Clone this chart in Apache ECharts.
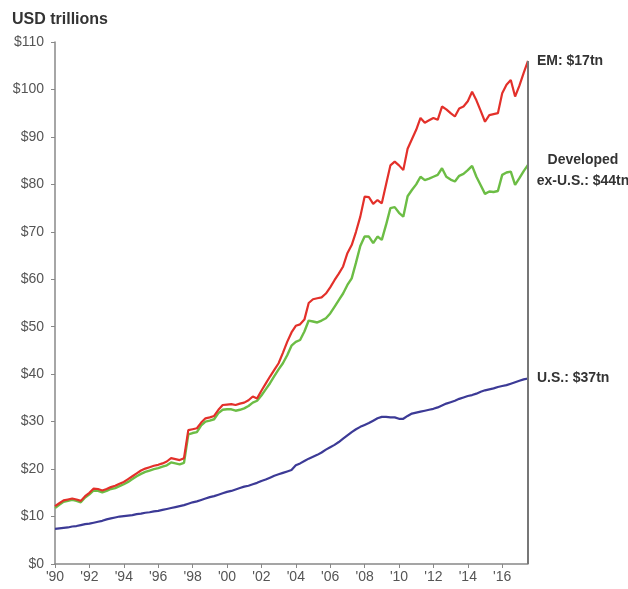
<!DOCTYPE html>
<html>
<head>
<meta charset="utf-8">
<script src="https://cdn.jsdelivr.net/npm/echarts@6/dist/echarts.min.js"></script>
<style>
  html, body { margin: 0; padding: 0; background: #fff; }
  #chart { width: 628px; height: 589px; }
</style>
</head>
<body>
<div id="chart"></div>
<script>
// quarterly readings, 1990 Q1 .. 2017 Q3 (USD trillions, cumulative)
// total = U.S. + developed ex-U.S. + EM
const total = [
  12.2, 12.8, 13.4, 13.6, 13.8, 13.6, 13.3, 14.3, 15.0, 15.9, 15.8, 15.5,
  15.8, 16.2, 16.5, 16.9, 17.3, 17.9, 18.5, 19.1, 19.7, 20.1, 20.4, 20.7,
  20.9, 21.2, 21.6, 22.3, 22.1, 21.9, 22.3, 28.2, 28.4, 28.6, 29.8, 30.7,
  30.9, 31.2, 32.5, 33.5, 33.6, 33.7, 33.5, 33.8, 34.0, 34.5, 35.3, 34.9,
  36.5, 38.0, 39.5, 40.9, 42.3, 44.5, 46.8, 48.8, 50.2, 50.5, 51.5, 55.0,
  55.8, 56.0, 56.2, 57.0, 58.3, 59.8, 61.2, 62.7, 65.5, 67.2, 70.0, 73.2,
  77.4, 77.3, 75.9, 76.7, 76.0, 80.0, 84.0, 84.8, 84.0, 83.0, 87.5, 89.5,
  91.5, 94.0, 93.0, 93.5, 94.0, 93.6, 96.4, 95.8, 95.0, 94.3, 96.0, 96.4,
  97.5, 99.5, 97.7, 95.5, 93.2, 94.6, 94.8, 95.0, 99.2, 101.0, 102.0, 98.5,
  100.8, 103.5, 106.0
];
// U.S. + developed ex-U.S.
const developed = [
  11.8, 12.5, 13.1, 13.3, 13.5, 13.3, 13.0, 14.0, 14.7, 15.5, 15.4, 15.1,
  15.4, 15.8, 16.0, 16.4, 16.8, 17.3, 17.9, 18.5, 19.0, 19.4, 19.7, 20.0,
  20.2, 20.5, 20.8, 21.4, 21.2, 21.0, 21.3, 27.3, 27.6, 27.8, 29.2, 30.0,
  30.2, 30.5, 31.8, 32.5, 32.6, 32.6, 32.3, 32.5, 32.8, 33.3, 34.0, 34.4,
  35.5, 36.8, 38.1, 39.6, 41.0, 42.3, 44.0, 46.0, 46.8, 47.2, 49.0, 51.3,
  51.1, 50.9, 51.3, 51.8, 52.8, 54.2, 55.6, 57.0, 58.8, 60.2, 63.5, 67.0,
  69.0, 69.0, 67.6, 69.0, 68.3, 71.5, 75.0, 75.2, 74.0, 73.2, 77.5, 78.8,
  80.0, 81.6, 80.9, 81.2, 81.6, 82.0, 83.4, 81.6, 81.0, 80.6, 81.8, 82.2,
  83.0, 83.9, 81.6, 79.8, 78.0, 78.5, 78.4, 78.6, 82.0, 82.5, 82.7, 79.9,
  81.3, 82.8, 84.1
];
const us = [
  7.4, 7.5, 7.6, 7.7, 7.9, 8.0, 8.2, 8.4, 8.5, 8.7, 8.9, 9.1,
  9.4, 9.6, 9.8, 10.0, 10.1, 10.2, 10.3, 10.5, 10.6, 10.8, 10.9, 11.1,
  11.2, 11.4, 11.6, 11.8, 12.0, 12.2, 12.4, 12.7, 13.0, 13.2, 13.5, 13.8,
  14.1, 14.3, 14.6, 14.9, 15.2, 15.4, 15.7, 16.0, 16.3, 16.5, 16.8, 17.1,
  17.5, 17.8, 18.2, 18.6, 18.9, 19.2, 19.5, 19.8, 20.8, 21.2, 21.7, 22.2,
  22.6, 23.0, 23.5, 24.1, 24.6, 25.1, 25.7, 26.4, 27.1, 27.8, 28.4, 28.9,
  29.3, 29.7, 30.2, 30.7, 31.0, 31.0, 30.9, 30.9, 30.6, 30.6, 31.2, 31.7,
  31.9, 32.1, 32.3, 32.5, 32.7, 33.0, 33.4, 33.8, 34.1, 34.4, 34.8, 35.1,
  35.4, 35.6, 35.9, 36.3, 36.6, 36.8, 37.0, 37.3, 37.5, 37.7, 38.0, 38.3,
  38.6, 38.9, 39.1
];
const startYear = 1990;
const years = total.map((_, i) => startYear + i * 0.25);
const endYear = years[years.length - 1];

const labelEM = 'EM: $17tn';
const labelDev = 'Developed\nex-U.S.: $44tn';
const labelUS = 'U.S.: $37tn';

const font = '"Liberation Sans", Arial, sans-serif';
const chart = echarts.init(document.getElementById('chart'));

const pairs = arr => arr.map((v, i) => [years[i], v]);

const endLabel = (text, extra) => Object.assign({
  show: true,
  formatter: text,
  color: '#333',
  fontFamily: font,
  fontSize: 14,
  fontWeight: 'bold',
  distance: 9,
  lineHeight: 21
}, extra || {});

chart.setOption({
  animation: false,
  title: {
    text: 'USD trillions',
    left: 7,
    top: 7,
    textStyle: { fontFamily: font, fontSize: 16, fontWeight: 'bold', color: '#333' }
  },
  grid: { left: 55, right: 100, top: 42, bottom: 25 },
  xAxis: {
    type: 'value',
    min: startYear,
    max: endYear,
    interval: 2,
    axisLine: { lineStyle: { color: '#888', width: 1.5 } },
    axisTick: { show: true, length: 4, lineStyle: { color: '#888' } },
    splitLine: { show: false },
    axisLabel: {
      color: '#555',
      fontFamily: font,
      fontSize: 14,
      margin: 6,
      showMaxLabel: false,
      formatter: v => "'" + String(v).slice(2)
    }
  },
  yAxis: {
    type: 'value',
    min: 0,
    max: 110,
    interval: 10,
    axisLine: { show: true, lineStyle: { color: '#888', width: 1.5 } },
    axisTick: { show: true, length: 4, lineStyle: { color: '#888' } },
    splitLine: { show: false },
    axisLabel: {
      color: '#555',
      fontFamily: font,
      fontSize: 14,
      margin: 11,
      formatter: v => '$' + v
    }
  },
  series: [
    {
      name: 'Total',
      type: 'line',
      data: pairs(total),
      showSymbol: false,
      lineStyle: { color: '#e3302a', width: 2.2 },
      z: 3,
      endLabel: endLabel(labelEM),
      markLine: {
        silent: true,
        symbol: 'none',
        label: { show: false },
        lineStyle: { color: '#777', width: 2, type: 'solid' },
        data: [[{ coord: [endYear, 0] }, { coord: [endYear, total[total.length - 1]] }]]
      }
    },
    {
      name: 'Developed ex-U.S.',
      type: 'line',
      data: pairs(developed),
      showSymbol: false,
      lineStyle: { color: '#6cbd45', width: 2.4 },
      z: 2,
      endLabel: endLabel(labelDev, { align: 'center', distance: 55, offset: [0, 6] })
    },
    {
      name: 'U.S.',
      type: 'line',
      data: pairs(us),
      showSymbol: false,
      lineStyle: { color: '#3c3a96', width: 2.2 },
      z: 2,
      endLabel: endLabel(labelUS)
    }
  ]
});
</script>
</body>
</html>
